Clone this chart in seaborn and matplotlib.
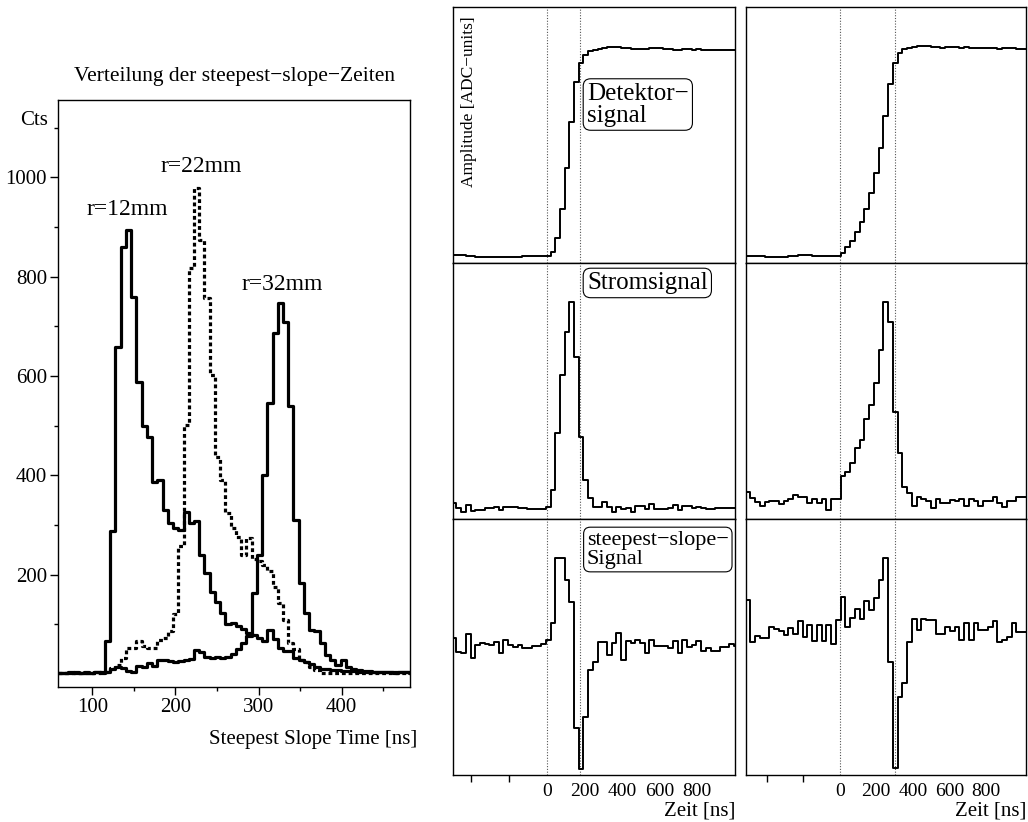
import numpy as np
import pandas as pd
import matplotlib
matplotlib.use("Agg")
import matplotlib.pyplot as plt
import seaborn as sns

# ---- left panel: steepest-slope time distributions (6.3 ns bins starting at 58.5 ns)
bin_start = 58.5
bin_width = 6.3
r12_counts = [3, 3, 4, 3, 3, 4, 3, 4, 5, 66, 289, 658, 861, 895, 760, 589, 500, 478, 386, 391,
              331, 304, 294, 290, 327, 305, 308, 240, 203, 166, 146, 123, 100, 103, 97, 90, 83, 78, 72, 66,
              88, 70, 53, 46, 46, 33, 28, 25, 21, 14, 11, 10, 9, 8, 7, 6, 6, 5, 5, 4,
              5, 4, 4, 4, 3, 4, 4, 3]
r22_counts = [3, 3, 3, 3, 3, 3, 3, 3, 4, 5, 12, 18, 33, 53, 53, 66, 56, 52, 53, 69,
              72, 86, 120, 257, 502, 818, 978, 875, 757, 603, 438, 391, 324, 294, 277, 240, 275, 232, 227, 220,
              207, 176, 143, 109, 62, 50, 29, 25, 15, 8, 3, 3, 2, 3, 2, 3, 2, 2, 3, 2,
              2, 3, 2, 2, 2, 3, 2, 2]
r32_counts = [3, 3, 3, 4, 3, 3, 3, 4, 3, 5, 10, 15, 12, 6, 5, 17, 15, 23, 16, 28,
              29, 26, 24, 26, 29, 30, 49, 45, 35, 33, 34, 33, 35, 40, 50, 62, 76, 164, 240, 401,
              546, 687, 748, 708, 540, 311, 183, 124, 89, 86, 63, 39, 29, 19, 29, 15, 10, 8, 7, 6,
              5, 5, 4, 4, 5, 4, 4, 4]

# ---- right panels: FADC traces (amplitude in arbitrary ADC units)
# event 1: 25 ns samples, first edge at -505 ns
ev1_start, ev1_step = -505, 25
ev1_detector = [8, 8, 7.5, 7, 6.5, 6, 6, 6, 6, 6, 6, 6, 6, 6, 6, 6.5, 6.5, 6.5, 6.5, 6.5,
                7, 11, 25, 54, 95, 141, 181, 200, 208, 212,
                213, 214, 215, 216, 216, 216, 215, 215, 214, 214, 214, 214, 215, 215, 215, 214,
                214, 213, 213, 214, 214, 213, 214, 213, 213, 213, 213, 213, 213, 213, 213]
ev1_current = [16, 11, 7, 14, 8, 9, 9, 11, 11, 12, 9, 12, 12, 12, 11, 11, 10, 10, 10, 10,
               12, 29, 86, 144, 187, 217, 162, 82, 39, 21,
               12, 12, 17, 12, 7, 12, 10, 11, 7, 13,
               13, 10, 15, 10, 10, 10, 11, 14, 9, 13,
               13, 11, 12, 11, 10, 10, 11, 11, 11, 11, 11]
ev1_steepest = [137, 123, 122, 141, 117, 130, 132, 131, 130, 133, 122, 135, 130, 128, 130, 127, 127, 129, 129, 131,
                135, 152, 217, 217, 195, 173, 47, 6, 58, 105,
                113, 133, 133, 120, 132, 142, 115, 134, 132, 135,
                132, 122, 135, 129, 129, 129, 127, 134, 122, 135,
                128, 130, 134, 124, 127, 124, 124, 128, 128, 131, 129]
ev1_marks = [0, 177]

# event 2: 26 ns samples, first edge at -515 ns
ev2_start, ev2_step = -515, 26
ev2_detector = [7, 6.5, 6.5, 6.5, 6, 6, 6, 6, 6, 6.5, 7, 7.5, 7.5, 7.5, 7, 7, 6.5, 6.5, 6.5, 6.5,
                10, 16, 22, 31, 41, 54, 70, 90, 115, 147, 179, 200, 210, 214, 215,
                216, 217, 217, 217, 216, 216, 215, 216, 216, 216, 215, 216, 215, 215, 215, 215,
                215, 215, 214, 215, 215, 215, 214, 214]
ev2_current = [27, 21, 17, 13, 17, 18, 18, 15, 18, 20, 24, 22, 22, 16, 20, 16, 20, 9, 20, 20,
               43, 47, 56, 71, 79, 100, 114, 136, 169, 217, 197, 107, 66, 32, 26,
               13, 22, 20, 18, 11, 20, 16, 16, 19, 18, 20, 13, 20, 18, 13, 18, 18, 22, 16,
               12, 18, 18, 22, 22]
ev2_steepest = [175, 133, 139, 137, 137, 148, 146, 144, 140, 147, 141, 154, 138, 150, 134, 150, 134, 150, 131, 155,
                178, 148, 157, 166, 156, 174, 165, 177, 195, 217, 113, 7, 78, 92, 133,
                156, 145, 156, 155, 155, 141, 141, 148, 144, 148, 135, 152, 135, 152, 145, 145,
                148, 154, 133, 135, 138, 152, 143, 143]
ev2_marks = [0, 304]

time_ticks = [-400, -200, 0, 200, 400, 600, 800]
time_labels = ["", "", "0", "200", "400", "600", "800"]

sns.set_style("ticks")
plt.rcParams["font.family"] = ["Liberation Serif", "DejaVu Serif"]
plt.rcParams["axes.linewidth"] = 1.0
plt.rcParams["axes.edgecolor"] = "black"
for key in ["text.color", "axes.labelcolor", "xtick.color", "ytick.color"]:
    plt.rcParams[key] = "black"

W, H = 1028, 822
fig = plt.figure(figsize=(W / 100, H / 100), dpi=100)


def px_axes(x0, y0, x1, y1):
    return fig.add_axes([x0 / W, 1 - y1 / H, (x1 - x0) / W, (y1 - y0) / H])


def step_hist(ax, start, step, values, lw, ls="-"):
    edges = [start + step * i for i in range(len(values) + 1)]
    df = pd.DataFrame({"t": [(edges[i] + edges[i + 1]) / 2 for i in range(len(values))],
                       "v": np.asarray(values, dtype=float)})
    sns.histplot(data=df, x="t", weights="v", bins=edges, element="step", fill=False,
                 color="black", linewidth=lw, linestyle=ls, ax=ax)
    ax.set_xlabel("")
    ax.set_ylabel("")


# ---------------- left panel
ax = px_axes(58, 100, 410, 687)
step_hist(ax, bin_start, bin_width, r12_counts, 2.3)
step_hist(ax, bin_start, bin_width, r32_counts, 2.3)
step_hist(ax, bin_start, bin_width, r22_counts, 2.3, ls=(0, (1.2, 0.9)))
ax.set_xlim(58.7, 482.2)
ax.set_ylim(-26, 1156)
ax.set_xticks([100, 200, 300, 400])
ax.set_xticks([150, 250, 350, 450], minor=True)
ax.set_yticks([200, 400, 600, 800, 1000])
ax.set_yticks([100, 300, 500, 700, 900, 1100], minor=True)
ax.tick_params(which="major", direction="out", length=6, width=1, labelsize=15, pad=2)
ax.tick_params(which="minor", direction="out", length=3, width=1)
ax.set_title("Verteilung der steepest\u2212slope\u2212Zeiten", fontsize=15.5, pad=14)
ax.text(1.02, -0.09, "Steepest Slope Time [ns]", transform=ax.transAxes,
        ha="right", va="center", fontsize=15)
ax.text(-0.028, 1115, "Cts", transform=ax.get_yaxis_transform(),
        ha="right", va="center", fontsize=15)
ax.text(141.7, 935, "r=12mm", ha="center", va="center", fontsize=17)
ax.text(230.7, 1022, "r=22mm", ha="center", va="center", fontsize=17)
ax.text(328.2, 784, "r=32mm", ha="center", va="center", fontsize=17)

# ---------------- right panels
columns = [
    ((453, 735), (-498, 1000), ev1_start, ev1_step, [ev1_detector, ev1_current, ev1_steepest], ev1_marks),
    ((746, 1026), (-513, 1020), ev2_start, ev2_step, [ev2_detector, ev2_current, ev2_steepest], ev2_marks),
]
rows = [(7, 263), (263, 519), (519, 775)]
box = dict(boxstyle="round,pad=0.15,rounding_size=0.3", fc="white", ec="black", lw=0.8)

for ci, ((x0, x1), xlim, start, step, traces, marks) in enumerate(columns):
    for ri, (y0, y1) in enumerate(rows):
        a = px_axes(x0, y0, x1, y1)
        step_hist(a, start, step, traces[ri], 1.4)
        for m in marks:
            a.axvline(m, color="#555555", lw=0.8, ls=(0, (1, 1.5)), zorder=0)
        a.set_xlim(*xlim)
        a.set_ylim(0, 256)
        a.set_yticks([])
        for s in a.spines.values():
            s.set_visible(True)
            s.set_linewidth(1.0)
        if ri < 2:
            a.set_xticks([])
        else:
            a.set_xticks(time_ticks)
            a.set_xticklabels(time_labels)
            a.tick_params(axis="x", direction="out", length=5, width=1, labelsize=14, pad=1)
            for t, lab in zip(a.xaxis.get_major_ticks(), time_labels):
                if lab:
                    t.tick1line.set_visible(False)
            a.text(1.0, -0.141, "Zeit [ns]", transform=a.transAxes, ha="right", va="center", fontsize=15)
        if ci == 0:
            if ri == 0:
                a.text(0.057, 0.63, "Amplitude [ADC\u2212units]", rotation=90, transform=a.transAxes,
                       ha="center", va="center", fontsize=12.5)
                a.text(0.475, 0.705, "Detektor\u2212\nsignal", transform=a.transAxes, ha="left", va="top",
                       fontsize=18, linespacing=1.0, bbox=box)
            elif ri == 1:
                a.text(0.475, 0.965, "Stromsignal", transform=a.transAxes, ha="left", va="top",
                       fontsize=18, bbox=box)
            else:
                a.text(0.475, 0.955, "steepest\u2212slope\u2212\nSignal", transform=a.transAxes,
                       ha="left", va="top", fontsize=16, linespacing=1.0, bbox=box)

fig.savefig("out.png", dpi=100)
